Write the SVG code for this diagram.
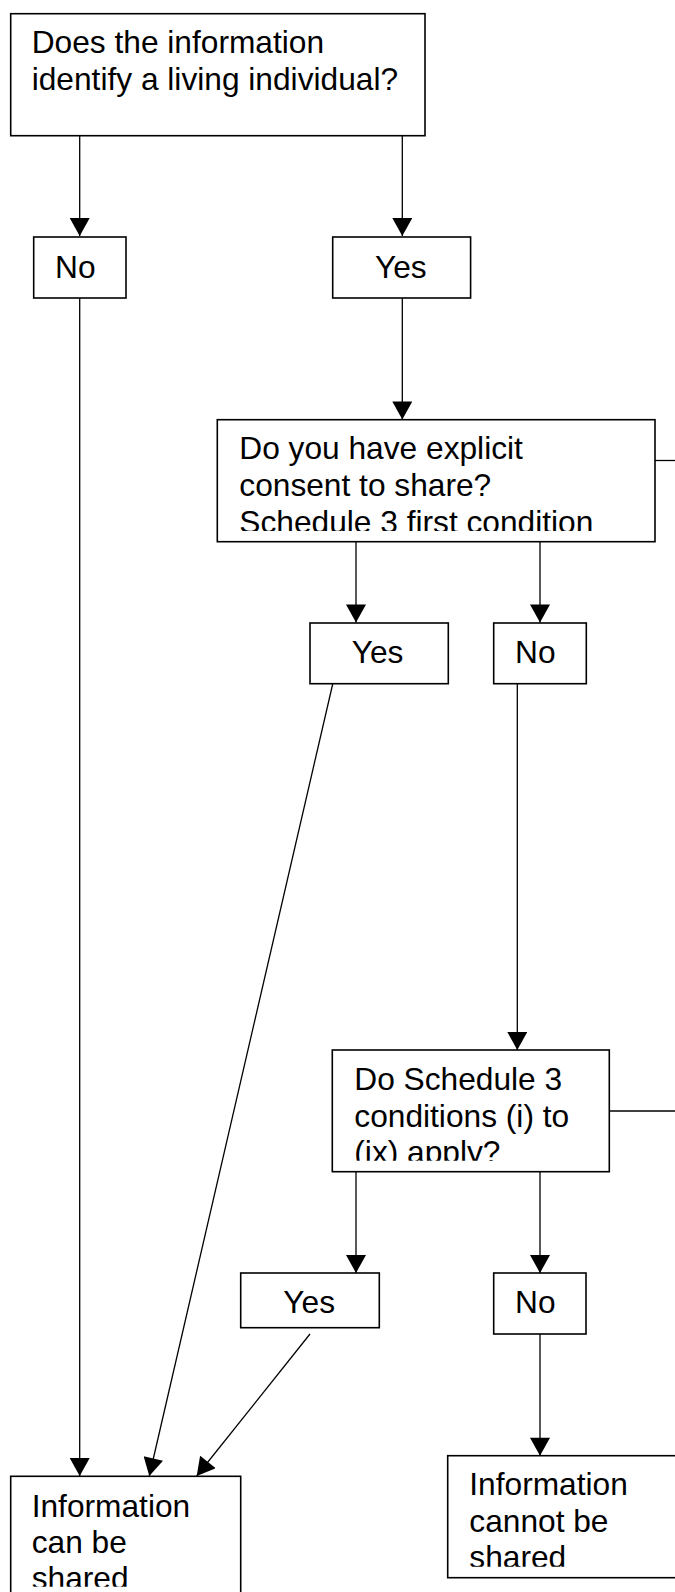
<svg xmlns="http://www.w3.org/2000/svg" width="675" height="1592" viewBox="0 0 675 1592">
<style>
.box{fill:#fff;stroke:#000;stroke-width:1.6}
.t{font-family:"Liberation Sans",Arial,sans-serif;font-size:31.7px;fill:#000}
.ln{fill:none;stroke:#000;stroke-width:1.3}
.ar{fill:none;stroke:#000;stroke-width:1.3;marker-end:url(#ah)}
</style>
<defs>
<marker id="ah" markerUnits="userSpaceOnUse" markerWidth="20" markerHeight="20" viewBox="0 0 18 20" refX="18" refY="10" orient="auto">
<path d="M0,0 L18,10 L0,20 Z" fill="#000"/>
</marker>
<clipPath id="c1"><rect x="217" y="419" width="440" height="112"/></clipPath>
<clipPath id="c2"><rect x="332" y="1050" width="278" height="110.7"/></clipPath>
<clipPath id="c3"><rect x="447" y="1455" width="230" height="111.7"/></clipPath>
<clipPath id="c4"><rect x="10" y="1476" width="231" height="110.7"/></clipPath>
</defs>
<g id="connectors">
<line class="ar" x1="79.7" y1="136" x2="79.7" y2="236"/>
<line class="ar" x1="402.3" y1="136" x2="402.3" y2="236"/>
<line class="ar" x1="79.7" y1="298" x2="79.7" y2="1476"/>
<line class="ar" x1="402.3" y1="298" x2="402.3" y2="419.5"/>
<line class="ln" x1="655" y1="460.5" x2="675" y2="460.5"/>
<line class="ar" x1="356" y1="541.7" x2="356" y2="622.5"/>
<line class="ar" x1="540" y1="541.7" x2="540" y2="622.5"/>
<line class="ar" x1="332.7" y1="684" x2="149.3" y2="1476"/>
<line class="ar" x1="517.3" y1="684" x2="517.3" y2="1050"/>
<line class="ln" x1="609.3" y1="1111" x2="675" y2="1111"/>
<line class="ar" x1="356" y1="1171.7" x2="356" y2="1273"/>
<line class="ar" x1="540" y1="1171.7" x2="540" y2="1273"/>
<line class="ar" x1="310" y1="1334" x2="196.7" y2="1476"/>
<line class="ar" x1="540" y1="1334" x2="540" y2="1455.7"/>
</g>
<g id="q1">
<rect class="box" x="10.7" y="13.7" width="414.3" height="122"/>
<text class="t" x="31.7" y="53.3">Does the information</text>
<text class="t" x="31.7" y="90">identify a living individual?</text>
</g>
<g id="no1">
<rect class="box" x="33.7" y="237" width="92.3" height="61"/>
<text class="t" x="55" y="277.7">No</text>
</g>
<g id="yes1">
<rect class="box" x="332.7" y="237" width="137.9" height="61"/>
<text class="t" x="375" y="277.7">Yes</text>
</g>
<g id="q2">
<rect class="box" x="217.3" y="419.7" width="437.7" height="122"/>
<g clip-path="url(#c1)">
<text class="t" x="239.3" y="459.3">Do you have explicit</text>
<text class="t" x="239.3" y="496">consent to share?</text>
<text class="t" x="239.3" y="532.7">Schedule 3 first condition</text>
</g>
</g>
<g id="yes2">
<rect class="box" x="310" y="623" width="138.3" height="60.7"/>
<text class="t" x="351.7" y="663.3">Yes</text>
</g>
<g id="no2">
<rect class="box" x="493.7" y="623" width="92.6" height="60.7"/>
<text class="t" x="515" y="663.3">No</text>
</g>
<g id="q3">
<rect class="box" x="332.3" y="1050" width="277" height="121.7"/>
<g clip-path="url(#c2)">
<text class="t" x="354.3" y="1090">Do Schedule 3</text>
<text class="t" x="354.3" y="1126.7">conditions (i) to</text>
<text class="t" x="354.3" y="1163.4">(ix) apply?</text>
</g>
</g>
<g id="yes3">
<rect class="box" x="240.7" y="1273" width="138.6" height="54.7"/>
<text class="t" x="283.3" y="1313.3">Yes</text>
</g>
<g id="no3">
<rect class="box" x="493.7" y="1273" width="92.3" height="61"/>
<text class="t" x="515" y="1313.3">No</text>
</g>
<g id="shared">
<rect class="box" x="10.7" y="1476.3" width="230" height="130"/>
<g clip-path="url(#c4)">
<text class="t" x="31.7" y="1516.7">Information</text>
<text class="t" x="31.7" y="1552.7">can be</text>
<text class="t" x="31.7" y="1589.4">shared</text>
</g>
</g>
<g id="notshared">
<rect class="box" x="447.7" y="1455.7" width="240" height="122"/>
<g clip-path="url(#c3)">
<text class="t" x="469.3" y="1495">Information</text>
<text class="t" x="469.3" y="1531.7">cannot be</text>
<text class="t" x="469.3" y="1568.4">shared</text>
</g>
</g>
</svg>
